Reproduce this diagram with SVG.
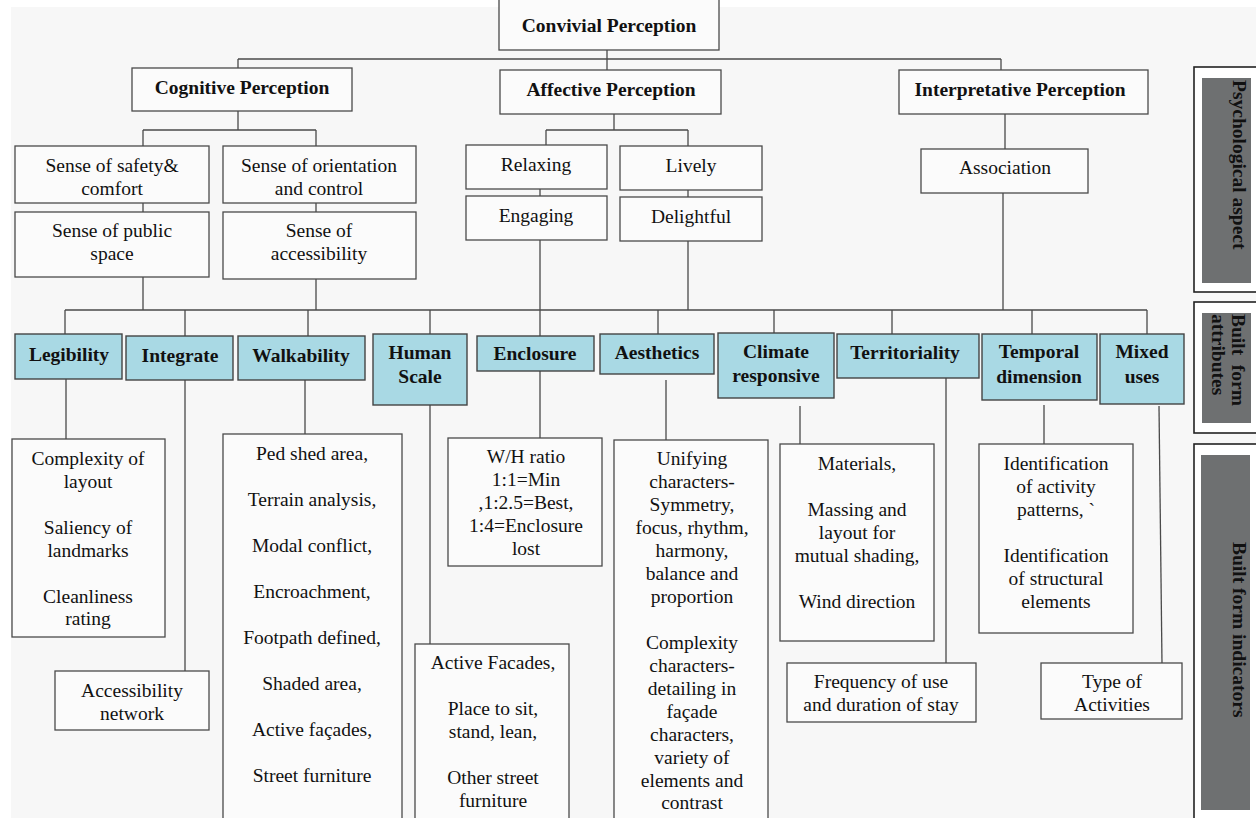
<svg xmlns="http://www.w3.org/2000/svg" width="1256" height="818" viewBox="0 0 1256 818">
<style>
text{font-family:"Liberation Serif","Times New Roman",serif;font-size:19.5px;fill:#111;text-anchor:middle}
.b{font-weight:bold}
.box{fill:#fbfbfb;stroke:#4a4a4a;stroke-width:1.3}
.attr{fill:#a9d9e4;stroke:#444;stroke-width:1.4}
.panel{fill:#ffffff;stroke:#222;stroke-width:1.6}
.gray{fill:#6e7071}
.side{font-weight:bold;text-anchor:start}
#connectors line{stroke:#4a4a4a;stroke-width:1.3}
</style>
<rect x="0" y="0" width="1256" height="818" fill="#ffffff"/>
<rect x="11" y="7" width="1245" height="811" fill="#f7f7f7"/>

<g id="connectors">
<line x1="607" y1="50" x2="607" y2="59"/>
<line x1="238" y1="59" x2="1001" y2="59"/>
<line x1="238" y1="59" x2="238" y2="68"/>
<line x1="607" y1="59" x2="607" y2="70"/>
<line x1="1001" y1="59" x2="1001" y2="70"/>
<line x1="238" y1="111" x2="238" y2="130"/>
<line x1="143" y1="130" x2="316" y2="130"/>
<line x1="143" y1="130" x2="143" y2="146"/>
<line x1="316" y1="130" x2="316" y2="146"/>
<line x1="143" y1="203" x2="143" y2="212"/>
<line x1="316" y1="203" x2="316" y2="212"/>
<line x1="143" y1="277" x2="143" y2="310"/>
<line x1="316" y1="279" x2="316" y2="310"/>
<line x1="614" y1="114" x2="614" y2="130"/>
<line x1="546" y1="130" x2="688" y2="130"/>
<line x1="546" y1="130" x2="546" y2="145"/>
<line x1="688" y1="130" x2="688" y2="146"/>
<line x1="540" y1="189" x2="540" y2="196"/>
<line x1="688" y1="190" x2="688" y2="197"/>
<line x1="540" y1="240" x2="540" y2="310"/>
<line x1="688" y1="241" x2="688" y2="310"/>
<line x1="1005" y1="114" x2="1005" y2="149"/>
<line x1="1003" y1="193" x2="1003" y2="310"/>
<line x1="65" y1="310" x2="1147" y2="310"/>
<line x1="65" y1="310" x2="65" y2="334"/>
<line x1="185" y1="310" x2="185" y2="336"/>
<line x1="308" y1="310" x2="308" y2="336"/>
<line x1="430" y1="310" x2="430" y2="334"/>
<line x1="540" y1="310" x2="540" y2="336"/>
<line x1="658" y1="310" x2="658" y2="334"/>
<line x1="774" y1="310" x2="774" y2="333"/>
<line x1="892" y1="310" x2="892" y2="334"/>
<line x1="1032" y1="310" x2="1032" y2="334"/>
<line x1="1147" y1="310" x2="1147" y2="334"/>
<line x1="66" y1="379" x2="66" y2="439"/>
<line x1="185" y1="380" x2="185" y2="671"/>
<line x1="305" y1="380" x2="305" y2="434"/>
<line x1="430" y1="405" x2="430" y2="644"/>
<line x1="540" y1="371" x2="540" y2="438"/>
<line x1="666" y1="380" x2="666" y2="440"/>
<line x1="800" y1="406" x2="800" y2="444"/>
<line x1="946" y1="378" x2="946" y2="663"/>
<line x1="1044" y1="405" x2="1044" y2="444"/>
<line x1="1159" y1="406" x2="1162" y2="663"/>
</g>

<g id="convivial"><rect class="box" x="499" y="-2" width="220" height="52"/><text class="b" x="609" y="32">Convivial Perception</text></g>
<g id="cognitive"><rect class="box" x="132" y="68" width="220" height="43"/><text class="b" x="242" y="94">Cognitive Perception</text></g>
<g id="affective"><rect class="box" x="500" y="70" width="221" height="44"/><text class="b" x="611" y="96">Affective Perception</text></g>
<g id="interpretative"><rect class="box" x="899" y="70" width="249" height="44"/><text class="b" x="1020" y="96">Interpretative Perception</text></g>

<g id="safety"><rect class="box" x="15" y="146" width="194" height="57"/><text x="112" y="172">Sense of safety&amp;</text><text x="112" y="195">comfort</text></g>
<g id="orientation"><rect class="box" x="223" y="146" width="193" height="57"/><text x="319" y="172">Sense of orientation</text><text x="319" y="195">and control</text></g>
<g id="public"><rect class="box" x="15" y="212" width="194" height="65"/><text x="112" y="237">Sense of public</text><text x="112" y="260">space</text></g>
<g id="accessibility"><rect class="box" x="223" y="212" width="193" height="67"/><text x="319" y="237">Sense of</text><text x="319" y="260">accessibility</text></g>
<g id="relaxing"><rect class="box" x="466" y="145" width="141" height="44"/><text x="536" y="171">Relaxing</text></g>
<g id="lively"><rect class="box" x="620" y="146" width="142" height="44"/><text x="691" y="172">Lively</text></g>
<g id="engaging"><rect class="box" x="466" y="196" width="141" height="44"/><text x="536" y="222">Engaging</text></g>
<g id="delightful"><rect class="box" x="620" y="197" width="142" height="44"/><text x="691" y="223">Delightful</text></g>
<g id="association"><rect class="box" x="921" y="149" width="167" height="44"/><text x="1005" y="174">Association</text></g>

<g id="legibility"><rect class="attr" x="15" y="334" width="107" height="45"/><text class="b" x="69" y="361">Legibility</text></g>
<g id="integrate"><rect class="attr" x="126" y="336" width="107" height="44"/><text class="b" x="180" y="362">Integrate</text></g>
<g id="walkability"><rect class="attr" x="238" y="336" width="127" height="44"/><text class="b" x="301" y="362">Walkability</text></g>
<g id="humanscale"><rect class="attr" x="373" y="334" width="94" height="71"/><text class="b" x="420" y="359">Human</text><text class="b" x="420" y="383">Scale</text></g>
<g id="enclosure"><rect class="attr" x="477" y="336" width="117" height="35"/><text class="b" x="535" y="360">Enclosure</text></g>
<g id="aesthetics"><rect class="attr" x="600" y="334" width="114" height="40"/><text class="b" x="657" y="359">Aesthetics</text></g>
<g id="climate"><rect class="attr" x="718" y="333" width="116" height="65"/><text class="b" x="776" y="358">Climate</text><text class="b" x="776" y="382">responsive</text></g>
<g id="territoriality"><rect class="attr" x="837" y="334" width="142" height="44"/><text class="b" x="905" y="359">Territoriality</text></g>
<g id="temporal"><rect class="attr" x="982" y="334" width="115" height="66"/><text class="b" x="1039" y="358">Temporal</text><text class="b" x="1039" y="383">dimension</text></g>
<g id="mixed"><rect class="attr" x="1100" y="334" width="84" height="70"/><text class="b" x="1142" y="358">Mixed</text><text class="b" x="1142" y="383">uses</text></g>

<g id="legibility-ind"><rect class="box" x="12" y="439" width="153" height="198"/>
<text x="88" y="465">Complexity of</text><text x="88" y="488">layout</text>
<text x="88" y="534">Saliency of</text><text x="88" y="557">landmarks</text>
<text x="88" y="603">Cleanliness</text><text x="88" y="625">rating</text></g>
<g id="integrate-ind"><rect class="box" x="55" y="671" width="154" height="59"/><text x="132" y="697">Accessibility</text><text x="132" y="720">network</text></g>
<g id="walkability-ind"><rect class="box" x="223" y="434" width="179" height="390"/>
<text x="312" y="460">Ped shed area,</text>
<text x="312" y="506">Terrain analysis,</text>
<text x="312" y="552">Modal conflict,</text>
<text x="312" y="598">Encroachment,</text>
<text x="312" y="644">Footpath defined,</text>
<text x="312" y="690">Shaded area,</text>
<text x="312" y="736">Active façades,</text>
<text x="312" y="782">Street furniture</text></g>
<g id="humanscale-ind"><rect class="box" x="415" y="644" width="154" height="180"/>
<text x="493" y="669">Active Facades,</text>
<text x="493" y="715">Place to sit,</text><text x="493" y="738">stand, lean,</text>
<text x="493" y="784">Other street</text><text x="493" y="807">furniture</text></g>
<g id="enclosure-ind"><rect class="box" x="448" y="438" width="154" height="128"/>
<text x="526" y="463">W/H ratio</text><text x="526" y="486">1:1=Min</text><text x="526" y="509">,1:2.5=Best,</text><text x="526" y="532">1:4=Enclosure</text><text x="526" y="555">lost</text></g>
<g id="aesthetics-ind"><rect class="box" x="614" y="440" width="154" height="384"/>
<text x="692" y="465">Unifying</text><text x="692" y="488">characters-</text><text x="692" y="511">Symmetry,</text><text x="692" y="534">focus, rhythm,</text><text x="692" y="557">harmony,</text><text x="692" y="580">balance and</text><text x="692" y="603">proportion</text>
<text x="692" y="649">Complexity</text><text x="692" y="672">characters-</text><text x="692" y="695">detailing in</text><text x="692" y="718">façade</text><text x="692" y="741">characters,</text><text x="692" y="764">variety of</text><text x="692" y="787">elements and</text><text x="692" y="809">contrast</text></g>
<g id="climate-ind"><rect class="box" x="780" y="444" width="154" height="197"/>
<text x="857" y="470">Materials,</text>
<text x="857" y="516">Massing and</text><text x="857" y="539">layout for</text><text x="857" y="562">mutual shading,</text>
<text x="857" y="608">Wind direction</text></g>
<g id="territoriality-ind"><rect class="box" x="787" y="663" width="189" height="59"/><text x="881" y="688">Frequency of use</text><text x="881" y="711">and duration of stay</text></g>
<g id="temporal-ind"><rect class="box" x="979" y="444" width="154" height="189"/>
<text x="1056" y="470">Identification</text><text x="1056" y="493">of activity</text><text x="1056" y="516">patterns, `</text>
<text x="1056" y="562">Identification</text><text x="1056" y="585">of structural</text><text x="1056" y="608">elements</text></g>
<g id="mixed-ind"><rect class="box" x="1041" y="663" width="141" height="56"/><text x="1112" y="688">Type of</text><text x="1112" y="711">Activities</text></g>

<g id="panel-psychological"><rect class="panel" x="1194" y="67" width="70" height="225"/><rect class="gray" x="1202" y="78" width="49" height="205"/>
<text class="side" transform="translate(1233,80) rotate(90)">Psychological aspect</text></g>
<g id="panel-attributes"><rect class="panel" x="1194" y="302" width="70" height="131"/><rect class="gray" x="1202" y="313" width="49" height="110"/>
<text class="side" transform="translate(1232,314) rotate(90)">Built</text>
<text class="side" style="text-anchor:end" transform="translate(1232,406) rotate(90)">form</text>
<text class="side" transform="translate(1212,314) rotate(90)">attributes</text></g>
<g id="panel-indicators"><rect class="panel" x="1194" y="444" width="70" height="384"/><rect class="gray" x="1201" y="455" width="49" height="355"/>
<text class="side" transform="translate(1233,542) rotate(90)">Built form indicators</text></g>
</svg>
